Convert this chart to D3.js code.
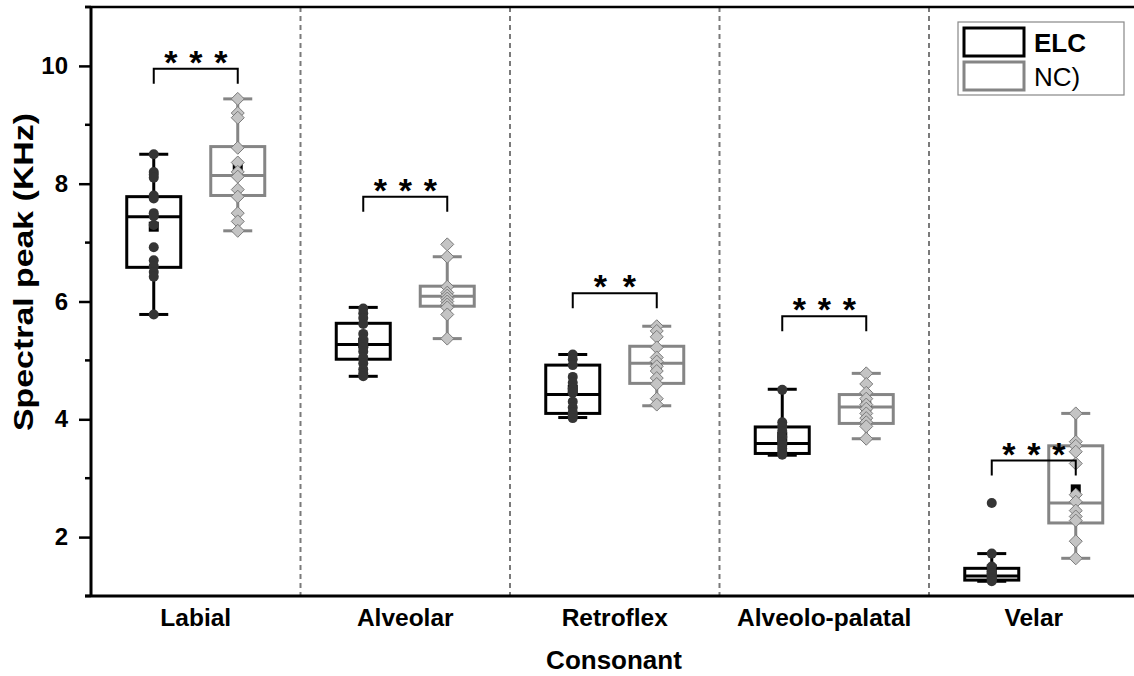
<!DOCTYPE html>
<html>
<head>
<meta charset="utf-8">
<script src="https://cdn.jsdelivr.net/npm/d3@7/dist/d3.min.js"></script>
<style>
  html, body { margin: 0; padding: 0; background: #fff; }
  svg { display: block; font-family: "Liberation Sans", Arial, sans-serif; }
</style>
</head>
<body>
<svg id="chart" width="1134" height="676"></svg>
<script>
// Consonant groups
const categories = ["Labial", "Alveolar", "Retroflex", "Alveolo-palatal", "Velar"];

// ELC box statistics (kHz)
const elcMin  = [5.78, 4.73, 4.03, 3.39, 1.25];
const elcQ1   = [6.58, 5.02, 4.10, 3.42, 1.27];
const elcMed  = [7.44, 5.27, 4.42, 3.59, 1.34];
const elcQ3   = [7.78, 5.63, 4.92, 3.87, 1.47];
const elcMax  = [8.50, 5.90, 5.10, 4.51, 1.72];
const elcMean = [7.27, 5.30, 4.50, 3.70, 1.45];

// NC box statistics (kHz)
const ncMin  = [7.20, 5.37, 4.23, 3.67, 1.64];
const ncQ1   = [7.80, 5.92, 4.61, 3.93, 2.24];
const ncMed  = [8.14, 6.09, 4.95, 4.21, 2.58];
const ncQ3   = [8.63, 6.26, 5.24, 4.42, 3.55];
const ncMax  = [9.44, 6.76, 5.58, 4.78, 4.10];
const ncMean = [8.27, 6.08, 4.92, 4.22, 2.81];

// Individual speaker values
const elcPoints = [
  [8.50, 8.20, 8.15, 8.10, 7.80, 7.75, 7.50, 7.45, 7.30, 6.92, 6.70, 6.60, 6.50, 6.42, 5.78],
  [5.88, 5.80, 5.72, 5.62, 5.45, 5.35, 5.28, 5.22, 5.15, 5.05, 4.95, 4.85, 4.78, 4.73],
  [5.10, 5.02, 4.92, 4.72, 4.62, 4.52, 4.45, 4.30, 4.20, 4.12, 4.06, 4.02],
  [4.50, 3.95, 3.88, 3.80, 3.70, 3.60, 3.55, 3.50, 3.45, 3.40],
  [2.58, 1.72, 1.50, 1.42, 1.38, 1.35, 1.32, 1.30, 1.28, 1.25]
];
const ncPoints = [
  [9.44, 9.20, 9.12, 8.61, 8.36, 8.20, 8.12, 7.90, 7.78, 7.50, 7.36, 7.20],
  [6.97, 6.76, 6.25, 6.15, 6.10, 6.05, 6.00, 5.95, 5.90, 5.78, 5.37],
  [5.58, 5.50, 5.40, 5.22, 5.05, 4.98, 4.90, 4.82, 4.70, 4.60, 4.35, 4.25],
  [4.78, 4.60, 4.45, 4.35, 4.25, 4.18, 4.10, 4.02, 3.95, 3.88, 3.67],
  [4.10, 3.62, 3.55, 3.45, 3.25, 2.72, 2.60, 2.45, 2.35, 2.28, 1.93, 1.64]
];

// Significance annotations
const sigStars = [3, 3, 2, 3, 3];
const sigLevel = [9.95, 7.78, 6.14, 5.75, 3.30];

const yTicks = [2, 4, 6, 8, 10];
const yMinorTicks = [1, 3, 5, 7, 9, 11];
const seriesNames = ["ELC", "NC)"];

const svg = d3.select("#chart");
const plotLeft = 91, plotTop = 7, plotBottom = 596;
const bandW = 209.5;

const x = d3.scaleBand().domain(categories).range([plotLeft, plotLeft + bandW * categories.length]).padding(0);
const y = d3.scaleLinear().domain([1, 11]).range([plotBottom, plotTop]);

const offset = 42, boxW = 54, capW = 29;
const cx = (c, k) => x(c) + x.bandwidth() / 2 + (k === 0 ? -offset : offset);

// group dividers
svg.append("g").selectAll("line")
  .data(categories.slice(1))
  .join("line")
  .attr("x1", d => x(d)).attr("x2", d => x(d))
  .attr("y1", plotTop).attr("y2", plotBottom)
  .attr("stroke", "#7a7a7a").attr("stroke-width", 2)
  .attr("stroke-dasharray", "5,4");

const series = [
  { name: "ELC", stroke: "#000", min: elcMin, q1: elcQ1, med: elcMed, q3: elcQ3, max: elcMax, mean: elcMean, pts: elcPoints },
  { name: "NC", stroke: "#858585", min: ncMin, q1: ncQ1, med: ncMed, q3: ncQ3, max: ncMax, mean: ncMean, pts: ncPoints }
];

series.forEach((s, k) => {
  const g = svg.append("g");
  categories.forEach((c, i) => {
    const xc = cx(c, k);
    // whiskers
    g.append("line").attr("x1", xc).attr("x2", xc)
      .attr("y1", y(s.max[i])).attr("y2", y(s.q3[i]))
      .attr("stroke", s.stroke).attr("stroke-width", 3);
    g.append("line").attr("x1", xc).attr("x2", xc)
      .attr("y1", y(s.q1[i])).attr("y2", y(s.min[i]))
      .attr("stroke", s.stroke).attr("stroke-width", 3);
    [s.max[i], s.min[i]].forEach(v => {
      g.append("line").attr("x1", xc - capW / 2).attr("x2", xc + capW / 2)
        .attr("y1", y(v)).attr("y2", y(v))
        .attr("stroke", s.stroke).attr("stroke-width", 3);
    });
    // box
    g.append("rect")
      .attr("x", xc - boxW / 2).attr("width", boxW)
      .attr("y", y(s.q3[i])).attr("height", y(s.q1[i]) - y(s.q3[i]))
      .attr("fill", "none").attr("stroke", s.stroke).attr("stroke-width", 3);
    g.append("line").attr("x1", xc - boxW / 2).attr("x2", xc + boxW / 2)
      .attr("y1", y(s.med[i])).attr("y2", y(s.med[i]))
      .attr("stroke", s.stroke).attr("stroke-width", 3);
    // mean marker
    g.append("rect")
      .attr("x", xc - 5).attr("y", y(s.mean[i]) - 5)
      .attr("width", 10).attr("height", 10).attr("fill", "#000");
    // individual values
    if (k === 0) {
      g.selectAll(null).data(s.pts[i]).join("circle")
        .attr("cx", xc).attr("cy", d => y(d)).attr("r", 5)
        .attr("fill", "#353535");
    } else {
      g.selectAll(null).data(s.pts[i]).join("path")
        .attr("d", d => { const yy = y(d), r = 6.5; return `M${xc},${yy - r}L${xc + r},${yy}L${xc},${yy + r}L${xc - r},${yy}Z`; })
        .attr("fill", "#c4c4c4").attr("stroke", "#7a7a7a").attr("stroke-width", 1);
    }
  });
});

// significance brackets
const sig = svg.append("g");
categories.forEach((c, i) => {
  const x1 = cx(c, 0), x2 = cx(c, 1), yb = y(sigLevel[i]);
  sig.append("path")
    .attr("d", `M${x1},${yb + 15}V${yb}H${x2}V${yb + 15}`)
    .attr("fill", "none").attr("stroke", "#000").attr("stroke-width", 2);
  const mid = (x1 + x2) / 2;
  const n = sigStars[i];
  const gap = n === 2 ? 29 : 25;
  d3.range(n).forEach(j => {
    sig.append("text")
      .attr("x", mid + (j - (n - 1) / 2) * gap)
      .attr("y", yb + 5)
      .attr("text-anchor", "middle")
      .attr("font-size", 34).attr("font-weight", "bold")
      .text("*");
  });
});

// frame lines
svg.append("line").attr("x1", plotLeft - 6).attr("x2", 1134).attr("y1", plotTop).attr("y2", plotTop)
  .attr("stroke", "#000").attr("stroke-width", 2.5);
svg.append("line").attr("x1", plotLeft - 6).attr("x2", 1134).attr("y1", plotBottom).attr("y2", plotBottom)
  .attr("stroke", "#000").attr("stroke-width", 3);

// y axis
const yAxis = d3.axisLeft(y).tickValues(yTicks).tickSize(12).tickPadding(11).tickFormat(d3.format("d"));
const yg = svg.append("g").attr("transform", `translate(${plotLeft},0)`).call(yAxis);
yg.select(".domain").attr("stroke-width", 3).attr("d", `M0,${plotTop}V${plotBottom}`);
yg.selectAll(".tick line").attr("stroke-width", 2.5);
yg.selectAll(".tick text").attr("font-size", 24).attr("font-weight", "bold").attr("fill", "#000")
  .attr("font-family", "Liberation Sans, Arial, sans-serif");
svg.append("g").attr("transform", `translate(${plotLeft},0)`)
  .selectAll("line").data(yMinorTicks).join("line")
  .attr("x1", -6).attr("x2", 0).attr("y1", d => y(d)).attr("y2", d => y(d))
  .attr("stroke", "#000").attr("stroke-width", 2.5);

// x axis labels
svg.append("g").selectAll("text").data(categories).join("text")
  .attr("x", d => x(d) + x.bandwidth() / 2).attr("y", 626)
  .attr("text-anchor", "middle").attr("font-size", 24.5).attr("font-weight", "bold")
  .text(d => d);

// axis titles
svg.append("text").attr("x", 614).attr("y", 669).attr("text-anchor", "middle")
  .attr("font-size", 26).attr("font-weight", "bold").text("Consonant");
svg.append("text").attr("transform", "translate(33,272) rotate(-90)")
  .attr("text-anchor", "middle").attr("font-size", 27).attr("font-weight", "bold")
  .attr("textLength", 318).attr("lengthAdjust", "spacingAndGlyphs")
  .text("Spectral peak (KHz)");

// legend
const lg = svg.append("g");
lg.append("rect").attr("x", 958).attr("y", 22).attr("width", 166).attr("height", 73)
  .attr("fill", "#fff").attr("stroke", "#888").attr("stroke-width", 1.2);
seriesNames.forEach((n, i) => {
  lg.append("rect").attr("x", 964).attr("y", 28 + i * 34).attr("width", 60).attr("height", 28)
    .attr("fill", "none").attr("stroke", series[i].stroke).attr("stroke-width", 3);
  lg.append("text").attr("x", 1034).attr("y", 52 + i * 34)
    .attr("font-size", 26).attr("font-weight", i === 0 ? "bold" : "normal").text(n);
});
</script>
</body>
</html>
